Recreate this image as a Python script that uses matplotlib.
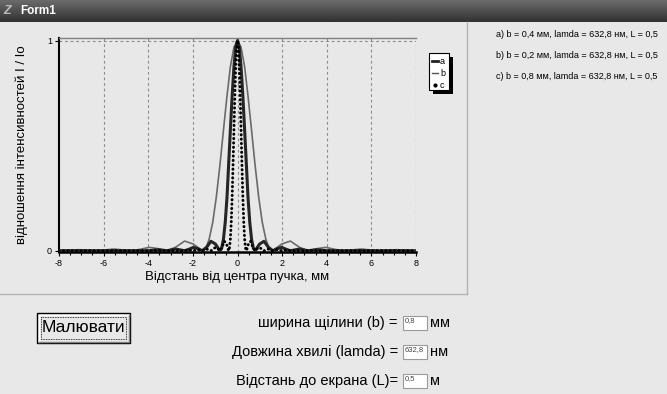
import numpy as np
import matplotlib.pyplot as plt
from matplotlib.patches import Rectangle

W, H = 667, 394
BG = '#e8e8e8'

# half profiles (x >= 0 mm), mirrored to the left
a_x = [0, 0.08, 0.16, 0.24, 0.32, 0.40, 0.47, 0.55, 0.63, 0.71, 0.79,
       0.99, 1.19, 1.38, 1.58, 1.78, 1.98, 2.18, 2.37, 2.77, 3.16, 3.56, 3.96, 8.0]
a_y = [1, 0.968, 0.875, 0.737, 0.573, 0.405, 0.255, 0.135, 0.055, 0.012, 0,
       0.032, 0.045, 0.017, 0, 0.010, 0.016, 0.007, 0, 0.008, 0, 0.005, 0, 0]

b_x = [0, 0.16, 0.32, 0.47, 0.63, 0.79, 0.95, 1.11, 1.27, 1.42, 1.58,
       1.98, 2.37, 2.77, 3.16, 3.56, 3.96, 4.35, 4.75, 5.54, 6.33, 7.12, 7.91, 8.0]
b_y = [1, 0.968, 0.875, 0.737, 0.573, 0.405, 0.255, 0.135, 0.055, 0.012, 0,
       0.032, 0.046, 0.017, 0, 0.010, 0.016, 0.007, 0, 0.008, 0, 0.005, 0, 0]

c_x = [0, 0.04, 0.08, 0.12, 0.16, 0.20, 0.24, 0.28, 0.32, 0.36, 0.40,
       0.49, 0.59, 0.69, 0.79, 0.89, 0.99, 1.09, 1.19, 1.38, 1.58, 1.78, 1.98, 2.18, 2.37, 8.0]
c_y = [1, 0.968, 0.875, 0.737, 0.573, 0.405, 0.255, 0.135, 0.055, 0.012, 0,
       0.032, 0.045, 0.017, 0, 0.010, 0.016, 0.007, 0, 0.008, 0, 0.005, 0, 0.003, 0, 0]

x_ticks = [-8, -6, -4, -2, 0, 2, 4, 6, 8]
info_lines = ['a) b = 0,4 мм, lamda = 632,8 нм, L = 0,5',
              'b) b = 0,2 мм, lamda = 632,8 нм, L = 0,5',
              'c) b = 0,8 мм, lamda = 632,8 нм, L = 0,5']
form_labels = ['ширина щілини (b) =', 'Довжина хвилі (lamda) =', 'Відстань до екрана (L)=']
form_values = ['0,8', '632,8', '0,5']
form_units = ['мм', 'нм', 'м']


def mirror(xs, ys):
    xs, ys = np.array(xs), np.array(ys)
    return np.concatenate([-xs[::-1], xs[1:]]), np.concatenate([ys[::-1], ys[1:]])


plt.rcParams['font.family'] = ['Liberation Sans', 'DejaVu Sans']
plt.rcParams['axes.unicode_minus'] = False

fig = plt.figure(figsize=(W / 100, H / 100), dpi=100)
fig.patch.set_facecolor(BG)

# form background layer in pixel coords
bg = fig.add_axes([0, 0, 1, 1])
bg.axis('off')
grad = np.linspace(0.42, 0.2, 22).reshape(-1, 1)
bg.imshow(grad, extent=(0, W, 22, 0), aspect='auto', cmap='gray', vmin=0, vmax=1)
bg.set_xlim(0, W)
bg.set_ylim(H, 0)
bg.text(3, 11, 'Z', color='#bbbbbb', fontsize=9, fontstyle='italic', fontweight='bold', va='center')
bg.text(20, 11, 'Form1', color='white', fontsize=8.5, fontweight='bold', va='center')

# chart panel border
bg.plot([467, 467], [22, 294], color='#b4b4b4', lw=1)
bg.plot([0, 467], [294, 294], color='#b4b4b4', lw=1)

# legend box
bg.add_patch(Rectangle((433, 57), 20, 37, facecolor='black', edgecolor='none'))
bg.add_patch(Rectangle((429, 53), 20, 37, facecolor='white', edgecolor='black', lw=0.8))
bg.plot([432, 438], [61, 61], color='#222222', lw=2)
bg.plot([432, 438], [73, 73], color='#555555', lw=1)
bg.plot([435], [85], 'o', color='black', ms=2)
for yy, name in zip([61, 73, 85], ['a', 'b', 'c']):
    bg.text(440, yy, name, fontsize=6.5, va='center')

# series description on the right
for i, line in enumerate(info_lines):
    bg.text(496, 34 + 21 * i, line, fontsize=6.5, va='center')

# button
bg.add_patch(Rectangle((37, 313), 93, 30, facecolor=BG, edgecolor='black', lw=1))
bg.plot([38.5, 38.5, 128.5], [341.5, 314.5, 314.5], color='white', lw=1)
bg.plot([38.5, 128.5, 128.5], [341.5, 341.5, 314.5], color='#808080', lw=1)
bg.add_patch(Rectangle((41, 317), 85, 22, facecolor='none', edgecolor='black',
                       lw=0.6, linestyle=(0, (1, 1))))
bg.text(83.5, 328, 'Малювати', fontsize=12.5, ha='center', va='center')

# input rows
for i in range(3):
    yc = 323 + 29 * i
    bg.text(398, yc, form_labels[i], fontsize=10.5, ha='right', va='center')
    bg.add_patch(Rectangle((403, yc - 7), 24, 14, facecolor='white', edgecolor='#9a9a9a', lw=0.8))
    bg.text(405, yc - 2, form_values[i], fontsize=5.5, color='#444444', va='center')
    bg.text(430, yc, form_units[i], fontsize=10.5, va='center')

# chart
ax = fig.add_axes([59 / W, 1 - 252 / H, (416 - 59) / W, (252 - 38) / H])
ax.set_facecolor('none')

xa, ya = mirror(a_x, a_y)
xb, yb = mirror(b_x, b_y)
xc, yc_ = mirror(c_x, c_y)
ax.plot(xb, yb, color='#6a6a6a', lw=1.2, zorder=3)
ax.plot(xa, ya, color='#252525', lw=2.2, zorder=4)
ax.plot(xc, yc_, color='black', lw=2.1, linestyle=(0, (0.1, 1.4)),
        dash_capstyle='round', zorder=5)

ax.set_xlim(-8, 8)
ax.set_ylim(-0.006, 1.012)
ax.set_xticks(x_ticks)
ax.set_xticks(np.arange(-8, 8.01, 0.5), minor=True)
ax.set_yticks([0, 1])
ax.tick_params(which='both', direction='out', labelsize=6.5, pad=2, width=0.8)
ax.tick_params(which='major', length=3)
ax.tick_params(which='minor', length=2)

for xv in x_ticks[1:]:
    ax.axvline(xv, color='#8c8c8c', lw=0.8, linestyle=(0, (2.5, 2.5)), zorder=1)
ax.axhline(1, color='#8c8c8c', lw=0.8, linestyle=(0, (2.5, 2.5)), zorder=1)

ax.spines['left'].set_linewidth(1.5)
ax.spines['bottom'].set_linewidth(1.8)
ax.spines['top'].set_color('#808080')
ax.spines['top'].set_linewidth(1)
ax.spines['right'].set_visible(False)

ax.set_xlabel('Відстань від центра пучка, мм', fontsize=9.5, labelpad=2)
ax.set_ylabel('відношення інтенсивностей I / Io', fontsize=9.5, labelpad=14)

fig.savefig('out.png', dpi=100, facecolor=BG)
